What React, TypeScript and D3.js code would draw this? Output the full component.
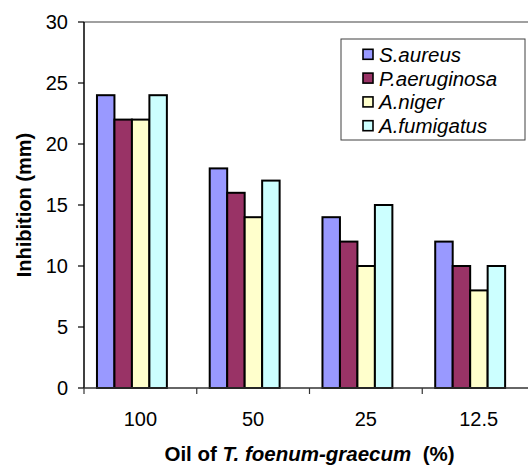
import React from "react";
import * as d3 from "d3";

const categories = ["100", "50", "25", "12.5"];
const seriesNames = ["S.aureus", "P.aeruginosa", "A.niger", "A.fumigatus"];
const sAureus = [24, 18, 14, 12];
const pAeruginosa = [22, 16, 12, 10];
const aNiger = [22, 14, 10, 8];
const aFumigatus = [24, 17, 15, 10];
const seriesValues = [sAureus, pAeruginosa, aNiger, aFumigatus];
const colors = ["#9999FF", "#993366", "#FFFFCC", "#CCFFFF"];
const yTicks = [0, 5, 10, 15, 20, 25, 30];

const W = 528;
const H = 465;
const left = 84;
const right = 535;
const top = 22;
const bottom = 388;
const FONT = "'Liberation Sans', Arial, Helvetica, sans-serif";

export default function App() {
  const x = d3.scaleBand<string>().domain(categories).range([left, right]).padding(0);
  const y = d3.scaleLinear().domain([0, 30]).range([bottom, top]);
  const bw = x.bandwidth();
  const barW = bw * 0.155;
  const offset = bw * 0.115;

  const legendX = 341;
  const legendY = 39;
  const legendW = 184;
  const legendH = 101;
  const rowY = (i: number) => 54.3 + i * 23.8;

  return (
    <svg
      width={W}
      height={H}
      style={{ position: "absolute", left: 0, top: 0, background: "#fff" }}
      fontFamily={FONT}
    >
      {/* plot area top border */}
      <line x1={left} x2={W} y1={top} y2={top} stroke="#808080" strokeWidth={1.5} />
      {/* bars */}
      {categories.map((c, ci) =>
        seriesValues.map((vals, si) => (
          <rect
            key={`${ci}-${si}`}
            x={(x(c) as number) + offset + si * barW}
            y={y(vals[ci])}
            width={barW}
            height={bottom - y(vals[ci])}
            fill={colors[si]}
            stroke="#000"
            strokeWidth={2}
          />
        ))
      )}
      {/* y axis */}
      <line x1={left} x2={left} y1={top} y2={bottom} stroke="#000" strokeWidth={1.5} />
      {yTicks.map((t) => (
        <g key={t}>
          <line x1={left - 6} x2={left} y1={y(t)} y2={y(t)} stroke="#000" strokeWidth={1.2} />
          <text x={68} y={y(t)} textAnchor="end" dominantBaseline="central" fontSize={20} fill="#000">
            {t}
          </text>
        </g>
      ))}
      {/* x axis */}
      <line x1={left} x2={W} y1={bottom} y2={bottom} stroke="#333" strokeWidth={1.5} />
      {categories.map((c, i) => (
        <g key={c}>
          <line x1={x(c) as number} x2={x(c) as number} y1={bottom} y2={bottom + 6} stroke="#333" strokeWidth={1.2} />
          <text x={(x(c) as number) + bw / 2} y={426} textAnchor="middle" fontSize={20} fill="#000">
            {c}
          </text>
        </g>
      ))}
      {/* axis titles */}
      <text
        transform={`translate(31,${(top + bottom) / 2}) rotate(-90)`}
        textAnchor="middle"
        fontSize={20}
        fontWeight="bold"
        fill="#000"
      >
        Inhibition (mm)
      </text>
      <text x={(left + right) / 2} y={461} textAnchor="middle" fontSize={20.5} fontWeight="bold" fill="#000" style={{ whiteSpace: "pre" }}>
        Oil of <tspan fontStyle="italic">T. foenum-graecum</tspan>{"  (%)"}
      </text>
      {/* legend */}
      <rect x={legendX} y={legendY} width={legendW} height={legendH} fill="#fff" stroke="#404040" strokeWidth={1} />
      {seriesNames.map((n, i) => (
        <g key={n}>
          <rect x={363} y={rowY(i) - 5} width={10} height={10} fill={colors[i]} stroke="#000" strokeWidth={1.6} />
          <text x={379} y={rowY(i)} dominantBaseline="central" fontSize={20.5} fontStyle="italic" fill="#000">
            {n}
          </text>
        </g>
      ))}
    </svg>
  );
}
